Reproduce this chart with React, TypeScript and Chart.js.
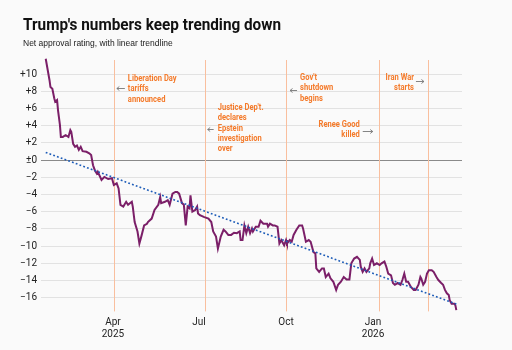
import React, { useEffect, useRef } from "react";
import { Chart, registerables } from "chart.js";
Chart.register(...registerables);

// Days since Jan 20, 2025 (inauguration)
const days = [0,4,5,7,9,10,12,13,15,16,18,21,24,26,27,29,31,33,35,37,39,43,46,48,50,52,54,55,59,62,66,70,72,75,77,79,82,85,87,91,92,94,97,99,101,104,107,108,112,115,119,121,122,126,129,131,134,137,139,141,144,146,148,150,152,153,155,158,160,161,163,167,172,175,177,180,182,185,188,190,193,196,199,202,205,206,208,210,212,214,216,218,219,222,225,227,230,234,235,237,240,242,245,247,249,252,254,255,258,260,262,265,268,271,272,275,278,280,283,285,286,289,292,294,296,299,301,304,307,309,312,315,318,321,323,326,329,332,333,335,337,339,342,343,345,347,350,353,355,358,360,362,365,367,369,372,375,377,379,381,383,386,389,391,394,396,397,399,401,403,405,408,410,413,415,418,420,422,424,426,427,429,432,433,434];
const netApproval = [11.8,9.3,8.5,8.3,7.2,6.8,7.0,5.8,4.1,2.7,2.7,2.9,2.7,3.5,3.3,1.9,1.55,1.7,1.2,1.55,1.05,0.97,0.8,0.6,-0.6,-1.2,-1.55,-1.35,-2.3,-1.95,-2.2,-2.1,-2.9,-2.7,-3.3,-5.2,-5.4,-4.85,-5.2,-4.85,-5.4,-7.2,-8.3,-9.7,-8.9,-7.6,-7.4,-7.2,-6.8,-5.8,-5.2,-4.3,-5.0,-4.85,-4.65,-5.2,-3.9,-3.7,-3.7,-3.9,-5.0,-5.2,-7.6,-5.4,-5.6,-4.1,-6.0,-5.8,-5.4,-6.2,-6.4,-6.6,-6.8,-7.2,-8.3,-8.9,-10.3,-8.9,-8.1,-8.3,-8.7,-8.7,-8.45,-8.5,-8.3,-9.3,-9.3,-7.6,-8.5,-7.75,-8.5,-7.95,-8.3,-7.75,-7.75,-7.05,-7.4,-7.4,-7.75,-7.4,-7.6,-7.6,-7.75,-9.7,-9.3,-9.9,-9.3,-9.7,-9.3,-9.5,-8.7,-8.1,-7.6,-7.6,-7.95,-9.5,-9.3,-9.5,-10.7,-10.85,-12.6,-13.0,-12.6,-12.6,-13.6,-13.2,-13.75,-14.15,-15.1,-14.5,-14.15,-13.6,-13.9,-13.9,-12.0,-11.45,-11.25,-11.6,-12.4,-13.0,-12.6,-13.0,-12.6,-12.0,-11.45,-12.2,-12.0,-12.2,-12.0,-11.8,-12.4,-13.2,-13.4,-14.3,-14.5,-14.3,-14.5,-13.95,-13.2,-14.15,-14.15,-14.75,-15.1,-15.1,-14.5,-13.6,-13.8,-14.5,-14.15,-13.2,-12.8,-12.8,-13.0,-13.6,-13.95,-14.3,-14.5,-15.1,-15.5,-15.7,-16.3,-16.7,-16.7,-16.9,-17.45];

const trendDays = [0, 434];
const trendValues = [0.9, -16.75];

const xTickDays = [71, 162, 254, 346];
const xTickLabels = [["Apr", "2025"], ["Jul"], ["Oct"], ["Jan", "2026"]];
const yTickValues = [10, 8, 6, 4, 2, 0, -2, -4, -6, -8, -10, -12, -14, -16];

const eventDays = [72, 168, 254, 352, 404];
const eventLabels = [
  ["Liberation Day", "tariffs", "announced"],
  ["Justice Dep't.", "declares", "Epstein", "investigation", "over"],
  ["Gov't", "shutdown", "begins"],
  ["Renee Good", "killed"],
  ["Iran War", "starts"],
];

const FONT = "Roboto, 'Liberation Sans', sans-serif";

// layout of annotation blocks (pixel offsets from event line / chart top)
const annotLayout = [
  { side: "right", textDx: 14, arrowFrom: 11, arrowTo: 3, textTop: 22, arrowY: 31 },
  { side: "right", textDx: 13, arrowFrom: 9, arrowTo: 3, textTop: 51, arrowY: 72 },
  { side: "right", textDx: 14, arrowFrom: 11, arrowTo: 4, textTop: 21, arrowY: 33 },
  { side: "left", textDx: -19, arrowFrom: -16, arrowTo: -6, textTop: 68, arrowY: 74 },
  { side: "left", textDx: -14, arrowFrom: -12, arrowTo: -4, textTop: 21, arrowY: 24 },
];
const ANNOT_SCALE_X = 0.84;

const eventPlugin = {
  id: "events",
  beforeDatasetsDraw(chart: any) {
    const { ctx, chartArea, scales } = chart;
    ctx.save();
    ctx.strokeStyle = "#f9bf9e";
    ctx.lineWidth = 1;
    eventDays.forEach((d) => {
      const x = Math.round(scales.x.getPixelForValue(d)) + 0.5;
      ctx.beginPath();
      ctx.moveTo(x, chartArea.top + 3);
      ctx.lineTo(x, chartArea.bottom);
      ctx.stroke();
    });
    ctx.restore();
  },
  afterDatasetsDraw(chart: any) {
    const { ctx, chartArea, scales } = chart;
    eventDays.forEach((d, i) => {
      const lay = annotLayout[i];
      const x = scales.x.getPixelForValue(d);
      eventLabels[i].forEach((line, j) => {
        ctx.save();
        ctx.font = `bold 9px ${FONT}`;
        ctx.fillStyle = "#f47a2a";
        ctx.textBaseline = "middle";
        ctx.textAlign = lay.side === "right" ? "left" : "right";
        ctx.translate(x + lay.textDx, chartArea.top + lay.textTop + j * 10.2);
        ctx.scale(ANNOT_SCALE_X, 1);
        ctx.fillText(line, 0, 0);
        ctx.restore();
      });
      // arrow
      ctx.save();
      const ay = Math.round(chartArea.top + lay.arrowY) + 0.5;
      const x0 = x + lay.arrowFrom;
      const x1 = x + lay.arrowTo;
      const dir = Math.sign(x1 - x0);
      ctx.strokeStyle = "#777";
      ctx.lineWidth = 0.9;
      ctx.beginPath();
      ctx.moveTo(x0, ay);
      ctx.lineTo(x1, ay);
      ctx.moveTo(x1 - dir * 2.5, ay - 2);
      ctx.lineTo(x1, ay);
      ctx.lineTo(x1 - dir * 2.5, ay + 2);
      ctx.stroke();
      ctx.restore();
    });
  },
};

export default function App() {
  const ref = useRef<HTMLCanvasElement | null>(null);
  useEffect(() => {
    document.body.style.margin = "0";
    document.body.style.background = "#fafafa";
    const canvas = ref.current;
    if (!canvas) return;
    const chart = new Chart(canvas, {
      type: "line",
      data: {
        datasets: [
          {
            label: "Trend",
            data: trendDays.map((d, i) => ({ x: d, y: trendValues[i] })),
            borderColor: "#1d5cb8",
            borderWidth: 1.6,
            borderDash: [1.8, 2.2],
            pointRadius: 0,
            order: 0,
          },
          {
            label: "Net approval",
            data: days.map((d, i) => ({ x: d, y: netApproval[i] })),
            borderColor: "#7b1f68",
            borderWidth: 2,
            pointRadius: 0,
            tension: 0,
            order: 1,
          },
        ],
      },
      options: {
        animation: false,
        responsive: false,
        layout: { padding: { top: 57, left: 0, right: 50, bottom: 0 } },
        plugins: { legend: { display: false }, tooltip: { enabled: false } },
        scales: {
          x: {
            type: "linear",
            min: -5,
            max: 440,
            afterFit: (s: any) => {
              s.height = 38.6;
            },
            afterBuildTicks: (s: any) => {
              s.ticks = xTickDays.map((v) => ({ value: v }));
            },
            ticks: {
              autoSkip: false,
              maxRotation: 0,
              padding: 5,
              color: "#222",
              font: { family: FONT, size: 10, lineHeight: 1.2 },
              callback: (v: any) => {
                const i = xTickDays.indexOf(Number(v));
                return i >= 0 ? xTickLabels[i] : "";
              },
            },
            grid: { display: false, drawTicks: false },
            border: { display: false },
          },
          y: {
            min: -17.6,
            max: 12,
            afterFit: (s: any) => {
              s.width = 41;
            },
            afterBuildTicks: (s: any) => {
              s.ticks = yTickValues.map((v) => ({ value: v }));
            },
            ticks: {
              padding: 4,
              color: "#222",
              font: { family: FONT, size: 10 },
              callback: (v: any) => {
                const n = Number(v);
                if (n > 0) return "+" + n;
                if (n === 0) return "±0";
                return "\u2212" + Math.abs(n);
              },
            },
            grid: {
              drawTicks: false,
              lineWidth: 1,
              color: (c: any) => (c.tick && c.tick.value === 0 ? "#8a8a8a" : "#e2e2e2"),
            },
            border: { display: false },
          },
        },
      },
      plugins: [eventPlugin],
    });
    return () => chart.destroy();
  }, []);

  return (
    <div style={{ position: "relative", width: 512, height: 350, background: "#fafafa", overflow: "hidden" }}>
      <div
        style={{
          position: "absolute",
          left: 23,
          top: 16,
          fontFamily: FONT,
          fontWeight: "bold",
          fontSize: 17,
          lineHeight: "17px",
          color: "#111",
          whiteSpace: "nowrap",
          transform: "scaleX(0.9)",
          transformOrigin: "left top",
        }}
      >
        Trump's numbers keep trending down
      </div>
      <div
        style={{
          position: "absolute",
          left: 23,
          top: 39,
          fontFamily: "'Liberation Sans', Arial, sans-serif",
          fontSize: 8.5,
          lineHeight: "9px",
          color: "#222",
          whiteSpace: "nowrap",
        }}
      >
        Net approval rating, with linear trendline
      </div>
      <canvas ref={ref} width={512} height={350} style={{ display: "block" }} />
    </div>
  );
}
